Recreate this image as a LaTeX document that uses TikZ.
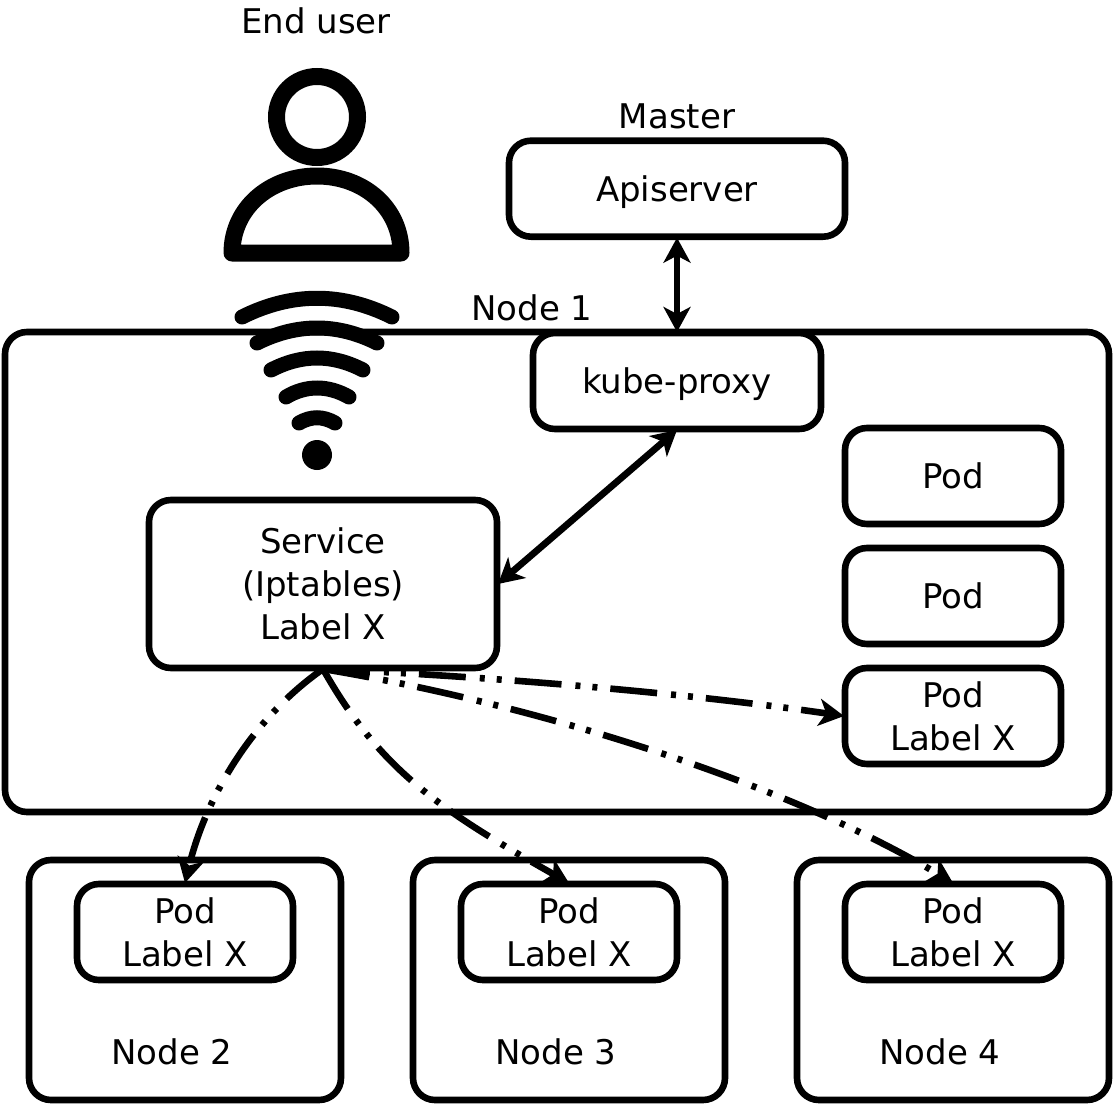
\documentclass[tikz,border=0pt]{standalone}
\usepackage{fontspec}
\setmainfont{DejaVu Sans}
\usetikzlibrary{arrows.meta}
\tikzset{
  box/.style={draw=black,line width=6.6pt,outer sep=1pt,fill=white,rounded corners=22pt,inner sep=0pt,align=center,font=\fontsize{34}{43}\selectfont},
  podbox/.style={box,minimum width=216pt,minimum height=96pt},
  nodebox/.style={box,minimum width=312pt,minimum height=240pt},
  flat/.style={text depth=0pt},
  caption/.style={inner sep=0pt,font=\fontsize{34}{43}\selectfont},
  link/.style={line width=6.8pt,draw=black,{Stealth[length=25pt,width=27pt,inset=7pt]}-{Stealth[length=25pt,width=27pt,inset=7pt]}},
  route/.style={line width=6.6pt,draw=black,dash pattern=on 47pt off 14pt on 5pt off 12pt on 5pt off 13pt,-{Stealth[length=25pt,width=27pt,inset=7pt]}},
  icon/.style={draw=black,line width=15pt,line cap=round}
}
\begin{document}
\begin{tikzpicture}[x=1pt,y=-1pt]
\useasboundingbox (0,0) rectangle (1113,1105);
% containers
\node[box,minimum width=1104pt,minimum height=480pt] (n1) at (557,572) {};
\node[nodebox] (n2) at (185,980) {};
\node[nodebox] (n3) at (569,980) {};
\node[nodebox] (n4) at (953,980) {};
% inner boxes
\node[box,flat,minimum width=336pt,minimum height=96pt] (api) at (677,188.7) {Apiserver};
\node[box,flat,minimum width=288pt,minimum height=96pt] (proxy) at (677,381) {kube-proxy};
\node[box,minimum width=348pt,minimum height=168pt] (svc) at (323,584) {Service\\(Iptables)\\Label X};
\node[podbox] (pa) at (953,476) {Pod};
\node[podbox] (pb) at (953,596) {Pod};
\node[podbox] (pc) at (953,716) {Pod\\Label X};
\node[podbox] (p2) at (185,932) {Pod\\Label X};
\node[podbox] (p3) at (569,932) {Pod\\Label X};
\node[podbox] (p4) at (953,932) {Pod\\Label X};
% captions
\node[caption] (cuser) at (316,21) {End user};
\node[caption] (cmaster) at (677,116.5) {Master};
\node[caption] (c1) at (532,308) {Node 1};
\node[caption] (c2) at (172,1052) {Node 2};
\node[caption] (c3) at (556,1052) {Node 3};
\node[caption] (c4) at (940,1052) {Node 4};
% person icon
\draw[black,line width=17pt] (317,117) circle [radius=40.5];
\draw[black,line width=17pt,line join=round] (232,253) .. controls (232,208) and (270,176) .. (317,176) .. controls (364,176) and (401,208) .. (401,253) -- cycle;
% wifi icon
\draw[icon] (242,317) .. controls (292,292) and (342,292) .. (392,317);
\draw[icon] (257,343) .. controls (297,323) and (337,323) .. (377,343);
\draw[icon] (271,370) .. controls (302,354) and (332,354) .. (363,370);
\draw[icon] (286,397) .. controls (306,385) and (328,385) .. (349,397);
\draw[icon] (299,423) .. controls (311,416) and (323,416) .. (335,423);
\fill[black] (317,455) circle [radius=15];
% connectors
\draw[link] (api.south) -- (proxy.north);
\draw[link] (proxy.south) -- (svc.east);
\draw[route] (svc.south) .. controls (250,720) and (205,800) .. (p2.north);
\draw[route] (svc.south) .. controls (380,770) and (440,810) .. (p3.north);
\draw[route] (svc.south) .. controls (540,705) and (790,785) .. (p4.north);
\draw[route] (svc.south) .. controls (480,676) and (680,692) .. (pc.west);
\end{tikzpicture}
\end{document}
